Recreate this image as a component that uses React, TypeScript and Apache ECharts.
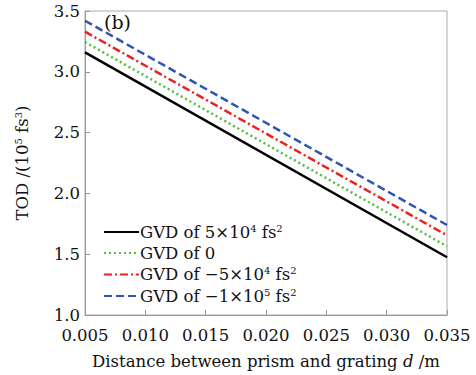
import React, { useEffect, useRef } from "react";
import * as echarts from "echarts";

const xEnds = [0.005, 0.035];
const seriesNames = [
  "GVD of 5×10{sup|4} fs{sup|2}",
  "GVD of 0",
  "GVD of −5×10{sup|4} fs{sup|2}",
  "GVD of −1×10{sup|5} fs{sup|2}",
];
const gvdPos = [3.16, 1.475];
const gvdZero = [3.245, 1.565];
const gvdNeg5e4 = [3.33, 1.655];
const gvdNeg1e5 = [3.42, 1.74];
const yTicks = [1.0, 1.5, 2.0, 2.5, 3.0, 3.5];
const xTicks = [0.005, 0.01, 0.015, 0.02, 0.025, 0.03, 0.035];

const FONT = "'DejaVu Serif', 'Liberation Serif', serif";
const FS = 16.5;

export default function App() {
  const ref = useRef<HTMLDivElement>(null);
  useEffect(() => {
    const chart = echarts.init(ref.current!, null, { renderer: "svg" });
    const mk = (name: string, vals: number[], color: string, type: any, width: number) => ({
      name,
      type: "line",
      symbol: "none",
      data: xEnds.map((x, i) => [x, vals[i]]),
      lineStyle: { color, type, width, cap: "butt" },
      itemStyle: { color },
    });
    const sup = { fontSize: 10, fontFamily: FONT, color: "#111", padding: [0, 0, 8, 0] };
    chart.setOption({
      animation: false,
      backgroundColor: "#fff",
      grid: { left: 85, right: 29, top: 11, bottom: 58, show: true, borderColor: "#aaa", borderWidth: 1 },
      xAxis: {
        type: "value",
        min: 0.005,
        max: 0.035,
        interval: 0.005,
        name: "Distance between prism and grating {it|d} /m",
        nameLocation: "middle",
        nameGap: 38,
        nameTextStyle: {
          fontFamily: FONT,
          fontSize: FS,
          color: "#111",
          rich: { it: { fontStyle: "italic", fontFamily: FONT, fontSize: FS, color: "#111" } },
        },
        axisLine: { show: true, lineStyle: { color: "#999" } },
        axisTick: { inside: true, length: 5, lineStyle: { color: "#999" } },
        splitLine: { show: false },
        axisLabel: {
          fontFamily: FONT,
          fontSize: FS,
          color: "#111",
          margin: 12,
          formatter: (v: number) => {
            const t = xTicks.find((x) => Math.abs(x - v) < 1e-9);
            return t !== undefined ? t.toFixed(3) : "";
          },
        },
      },
      yAxis: {
        type: "value",
        min: 1.0,
        max: 3.5,
        interval: 0.5,
        name: "TOD /(10{sup|5} fs{sup|3})",
        nameLocation: "middle",
        nameGap: 54,
        nameTextStyle: {
          fontFamily: FONT,
          fontSize: FS,
          color: "#111",
          rich: { sup },
        },
        axisLine: { show: true, lineStyle: { color: "#999" } },
        axisTick: { inside: true, length: 5, lineStyle: { color: "#999" } },
        splitLine: { show: false },
        axisLabel: {
          fontFamily: FONT,
          fontSize: FS,
          color: "#111",
          margin: 5,
          formatter: (v: number) => {
            const t = yTicks.find((y) => Math.abs(y - v) < 1e-9);
            return t !== undefined ? t.toFixed(1) : "";
          },
        },
      },
      legend: {
        orient: "vertical",
        left: 98,
        top: 218,
        itemGap: 4,
        itemWidth: 35,
        itemHeight: 20,
        data: seriesNames,
        itemStyle: { opacity: 0 },
        formatter: (n: string) => n,
        textStyle: {
          fontFamily: FONT,
          fontSize: FS,
          color: "#111",
          padding: [0, 0, 0, -4],
          rich: { sup },
        },
      },
      graphic: [
        {
          type: "text",
          left: 104,
          top: 12,
          style: { text: "(b)", fontFamily: FONT, fontSize: 19, fill: "#111" },
        },
      ],
      series: [
        mk(seriesNames[0], gvdPos, "#000000", "solid", 2.5),
        mk(seriesNames[1], gvdZero, "#4fbf3a", [2, 3], 2.5),
        mk(seriesNames[2], gvdNeg5e4, "#e8231d", [8, 3, 2, 3], 2.5),
        mk(seriesNames[3], gvdNeg1e5, "#2d55b3", [8, 4], 2.5),
      ],
    });
    return () => chart.dispose();
  }, []);
  return (
    <div
      ref={ref}
      style={{ position: "absolute", left: 0, top: 0, width: 476, height: 375 }}
    />
  );
}
